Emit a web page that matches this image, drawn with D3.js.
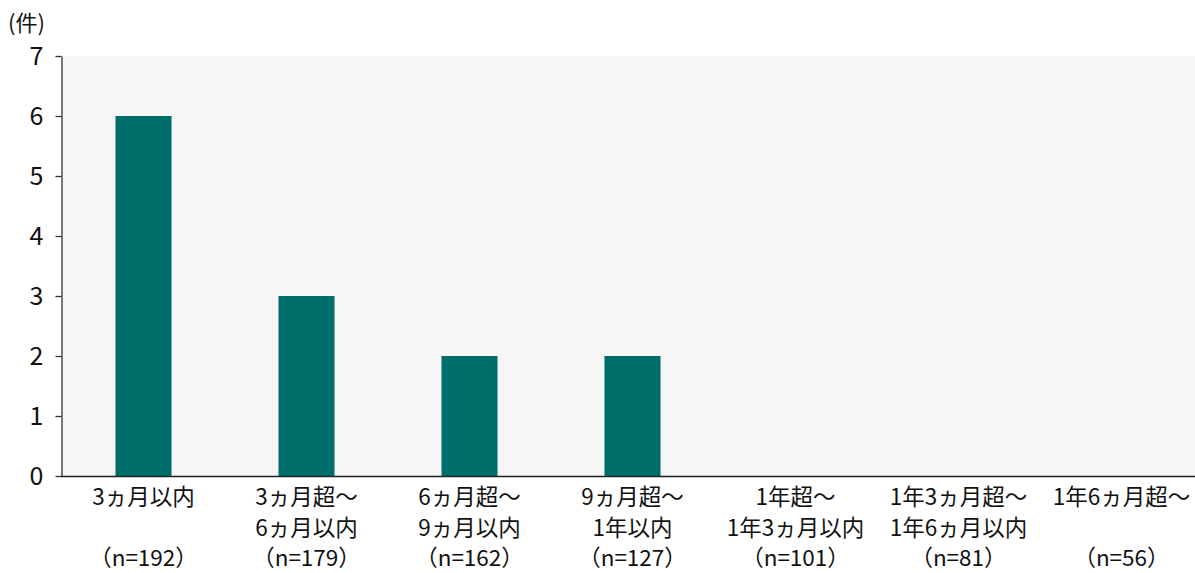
<!DOCTYPE html>
<html><head><meta charset="utf-8">
<script src="https://cdn.jsdelivr.net/npm/d3@7"></script>
<style>body{margin:0;background:#fff;} svg{display:block;font-family:"Noto Sans CJK JP","Noto Sans",sans-serif;}</style>
</head><body>
<svg id="c" width="1195" height="573"></svg>
<script>
const categories = [
  ["3ヵ月以内", "", "（n=192）"],
  ["3ヵ月超～", "6ヵ月以内", "（n=179）"],
  ["6ヵ月超～", "9ヵ月以内", "（n=162）"],
  ["9ヵ月超～", "1年以内", "（n=127）"],
  ["1年超～", "1年3ヵ月以内", "（n=101）"],
  ["1年3ヵ月超～", "1年6ヵ月以内", "（n=81）"],
  ["1年6ヵ月超～", "", "（n=56）"]
];
const values = [6, 3, 2, 2, 0, 0, 0];
const yTicks = [0, 1, 2, 3, 4, 5, 6, 7];
const unitLabel = "(件)";

const svg = d3.select("#c");
const pL = 62, pR = 1203, pT = 56, pB = 476;
const x = d3.scaleBand().domain(d3.range(categories.length)).range([pL, pR]).padding(0);
const y = d3.scaleLinear().domain([0, 7]).range([pB, pT]);

svg.append("rect").attr("x", pL).attr("y", pT).attr("width", 1195 - pL).attr("height", pB - pT).attr("fill", "#f7f7f7");

const bw = x.bandwidth() * 0.344;
svg.selectAll("rect.bar").data(values).join("rect").attr("class", "bar")
  .attr("x", (d, i) => x(i) + x.bandwidth() / 2 - bw / 2)
  .attr("y", d => y(d)).attr("width", bw).attr("height", d => y(0) - y(d))
  .attr("fill", "#006f6b");

const yAxis = svg.append("g").attr("transform", `translate(${pL - 0.5},0)`)
  .call(d3.axisLeft(y).tickValues(yTicks).tickFormat(d3.format("d")).tickSize(6).tickPadding(12).tickSizeOuter(0));
yAxis.select(".domain").attr("stroke", "#333").attr("stroke-width", 1.3);
yAxis.selectAll(".tick line").attr("stroke", "#333").attr("stroke-width", 1.3);
yAxis.selectAll("text").attr("font-size", 25).attr("fill", "#111").attr("font-family", '"Noto Sans CJK JP",sans-serif');

svg.append("line").attr("x1", pL - 1).attr("x2", 1195).attr("y1", pB + 0.5).attr("y2", pB + 0.5)
  .attr("stroke", "#222").attr("stroke-width", 1.5);

svg.append("text").attr("x", 8).attr("y", 31).attr("font-size", 22).attr("fill", "#111").text(unitLabel);

const lab = svg.append("g");
categories.forEach((lines, i) => {
  const cx = x(i) + x.bandwidth() / 2;
  const t = lab.append("text").attr("x", cx).attr("y", 505)
    .attr("text-anchor", "middle").attr("font-size", 22.5).attr("fill", "#111");
  let dy = 0;
  lines.forEach((s, j) => {
    if (s) {
      t.append("tspan").attr("x", cx).attr("y", 505 + j * 30.5).text(s);
    }
  });
});
</script>
</body></html>
